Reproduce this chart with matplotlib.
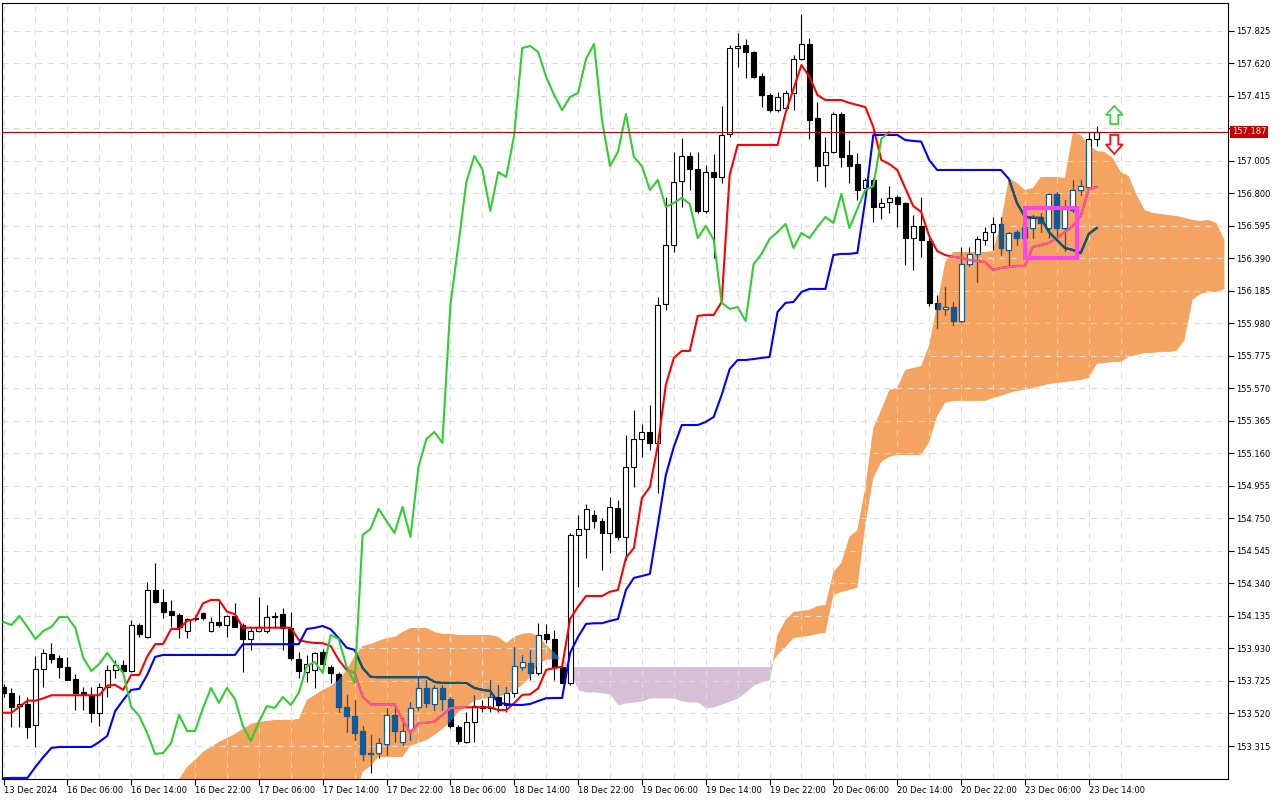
"""USDJPY H1 candles with Ichimoku Kinko Hyo, MT4 style."""

import numpy as np
import matplotlib
matplotlib.use("Agg")
import matplotlib.pyplot as plt
from matplotlib.path import Path
from matplotlib.patches import Polygon, Rectangle
from matplotlib.transforms import blended_transform_factory

# --- candles (bar 0 = 13 Dec 2024 22:00, one bar per hour) ---
opens = [
    153.688, 153.650, 153.567, 153.580, 153.448, 153.801, 153.896, 153.870, 153.814, 153.738,
    153.656, 153.631, 153.524, 153.688, 153.795, 153.826, 153.788, 154.078, 154.003, 154.299,
    154.223, 154.167, 154.141, 154.041, 154.116, 154.154, 154.041, 154.097, 154.078, 154.135,
    154.078, 153.990, 154.041, 154.041, 154.129, 154.148, 154.059, 153.864, 153.782, 153.795,
    153.908, 153.814, 153.770, 153.561, 153.505, 153.410, 153.265, 153.271, 153.328, 153.511,
    153.341, 153.416, 153.561, 153.681, 153.580, 153.681, 153.612, 153.435, 153.341, 153.467,
    153.567, 153.555, 153.624, 153.574, 153.650, 153.814, 153.839, 153.776, 154.022, 153.990,
    153.814, 153.713, 154.646, 154.684, 154.772, 154.734, 154.658, 154.816, 154.633, 155.075,
    155.251, 155.295, 155.226, 156.102, 156.474, 156.878, 157.035, 156.953, 156.689, 156.934,
    156.903, 157.174, 157.716, 157.735, 157.691, 157.540, 157.420, 157.325, 157.338, 157.433,
    157.647, 157.742, 157.275, 156.979, 157.061, 157.300, 157.042, 156.985, 156.834, 156.884,
    156.714, 156.745, 156.777, 156.739, 156.518, 156.594, 156.500, 156.109, 156.071, 156.083,
    155.995, 156.354, 156.418, 156.506, 156.556, 156.607, 156.443, 156.556, 156.518, 156.581,
    156.651, 156.581, 156.796, 156.581, 156.695, 156.821, 156.840, 157.143,
]
highs = [
    153.707, 153.681, 153.637, 153.624, 153.883, 153.927, 153.965, 153.889, 153.877, 153.770,
    153.688, 153.688, 153.713, 153.826, 153.858, 153.858, 154.110, 154.091, 154.349, 154.469,
    154.305, 154.236, 154.154, 154.122, 154.141, 154.160, 154.129, 154.236, 154.141, 154.217,
    154.091, 154.066, 154.255, 154.204, 154.160, 154.185, 154.160, 153.908, 153.889, 153.908,
    153.927, 153.826, 153.782, 153.637, 153.605, 153.441, 153.385, 153.366, 153.555, 153.561,
    153.492, 153.593, 153.751, 153.732, 153.700, 153.700, 153.624, 153.448, 153.530, 153.637,
    153.605, 153.732, 153.700, 153.688, 153.940, 153.889, 153.921, 154.091, 154.085, 154.047,
    153.845, 154.658, 154.772, 154.840, 154.803, 154.753, 154.885, 154.866, 155.276, 155.434,
    155.346, 155.465, 156.146, 156.777, 157.061, 157.149, 157.061, 157.061, 156.979, 157.048,
    157.351, 157.735, 157.811, 157.773, 157.700, 157.559, 157.433, 157.439, 157.452, 157.672,
    157.931, 157.779, 157.376, 157.155, 157.313, 157.313, 157.136, 157.054, 156.897, 156.897,
    156.771, 156.846, 156.790, 156.745, 156.663, 156.777, 156.519, 156.159, 156.209, 156.115,
    156.462, 156.462, 156.531, 156.588, 156.651, 156.651, 156.556, 156.569, 156.632, 156.663,
    156.676, 156.802, 156.809, 156.758, 156.884, 156.884, 157.187, 157.225,
]
lows = [
    153.624, 153.435, 153.435, 153.366, 153.309, 153.688, 153.839, 153.744, 153.732, 153.542,
    153.542, 153.467, 153.441, 153.624, 153.744, 153.763, 153.782, 154.003, 153.996, 154.217,
    154.122, 154.066, 153.996, 153.996, 154.104, 154.110, 154.034, 154.066, 154.003, 154.066,
    153.782, 153.921, 154.034, 154.028, 154.059, 153.921, 153.858, 153.744, 153.719, 153.681,
    153.795, 153.713, 153.530, 153.404, 153.353, 153.227, 153.145, 153.240, 153.259, 153.341,
    153.322, 153.353, 153.542, 153.561, 153.542, 153.542, 153.429, 153.328, 153.334, 153.341,
    153.530, 153.530, 153.530, 153.530, 153.624, 153.795, 153.732, 153.763, 153.965, 153.732,
    153.713, 153.700, 154.318, 154.501, 154.690, 154.425, 154.532, 154.614, 154.488, 154.948,
    155.138, 155.182, 154.911, 156.064, 156.430, 156.714, 156.821, 156.676, 156.676, 156.392,
    156.865, 157.155, 157.597, 157.527, 157.527, 157.344, 157.313, 157.313, 157.325, 157.325,
    157.641, 157.143, 156.878, 156.840, 157.054, 156.966, 156.865, 156.758, 156.790, 156.619,
    156.638, 156.676, 156.588, 156.348, 156.317, 156.399, 156.090, 155.951, 156.033, 155.970,
    155.989, 156.342, 156.241, 156.474, 156.443, 156.411, 156.336, 156.474, 156.443, 156.518,
    156.556, 156.518, 156.506, 156.436, 156.682, 156.790, 156.834, 157.098,
]
closes = [
    153.650, 153.561, 153.580, 153.435, 153.801, 153.902, 153.864, 153.814, 153.732, 153.650,
    153.643, 153.524, 153.688, 153.795, 153.826, 153.788, 154.078, 154.022, 154.299, 154.223,
    154.160, 154.141, 154.066, 154.116, 154.122, 154.122, 154.097, 154.078, 154.135, 154.066,
    153.990, 154.041, 154.066, 154.129, 154.129, 154.059, 153.870, 153.788, 153.833, 153.902,
    153.833, 153.776, 153.561, 153.505, 153.397, 153.265, 153.271, 153.334, 153.511, 153.410,
    153.410, 153.555, 153.681, 153.587, 153.681, 153.612, 153.441, 153.347, 153.467, 153.567,
    153.555, 153.624, 153.574, 153.650, 153.820, 153.845, 153.776, 154.015, 153.990, 153.814,
    153.713, 154.646, 154.684, 154.810, 154.734, 154.658, 154.822, 154.633, 155.075, 155.251,
    155.295, 155.226, 156.096, 156.474, 156.871, 157.035, 156.953, 156.689, 156.934, 156.903,
    157.168, 157.716, 157.729, 157.691, 157.534, 157.420, 157.325, 157.407, 157.433, 157.647,
    157.742, 157.262, 156.972, 157.061, 157.300, 157.029, 156.972, 156.821, 156.884, 156.714,
    156.739, 156.771, 156.733, 156.518, 156.594, 156.506, 156.109, 156.071, 156.083, 155.995,
    156.354, 156.418, 156.512, 156.556, 156.607, 156.455, 156.550, 156.518, 156.588, 156.651,
    156.613, 156.796, 156.581, 156.701, 156.821, 156.846, 157.143, 157.187,
]

# --- Ichimoku lines ---
tenkan = (
    [153.525, 153.525, 153.563, 153.601, 153.601, 153.616] + [153.635] * 7
    + [153.696, 153.700, 153.669, 153.763, 153.763, 153.879, 153.957, 153.959, 154.053, 154.053,
       154.104, 154.116, 154.215, 154.236, 154.236, 154.162, 154.146] + [154.061] * 7
    + [153.984, 153.971, 153.965, 153.963, 153.946, 153.858, 153.795, 153.776, 153.626]
    + [153.578] * 4
    + [153.479, 153.399, 153.459, 153.461, 153.469, 153.511, 153.553] + [153.559] * 5
    + [153.542, 153.542, 153.585, 153.637, 153.641, 153.679, 153.795, 153.807, 153.814,
       154.116, 154.194] + [154.261] * 3
    + [154.288, 154.299, 154.501, 154.564, 154.879, 154.948, 155.213, 155.592, 155.762,
       155.806, 155.806, 156.027, 156.033, 156.033, 156.115, 156.916] + [157.105] * 6
    + [157.307, 157.458, 157.609, 157.534, 157.420] + [157.388] * 3
    + [157.370, 157.357, 157.344, 157.218, 157.010, 156.985, 156.947, 156.834, 156.720,
       156.682, 156.531, 156.436, 156.411, 156.399, 156.392, 156.380, 156.373, 156.367,
       156.317, 156.329, 156.336, 156.342, 156.342, 156.462, 156.474, 156.487, 156.518,
       156.556, 156.594, 156.657, 156.827, 156.840]
)
kijun = (
    [153.112, 153.114, 153.114, 153.114, 153.183, 153.246, 153.303] + [153.309] * 5
    + [153.341, 153.379, 153.536, 153.605, 153.669, 153.675, 153.763, 153.877]
    + [153.889] * 10 + [153.957] * 8
    + [154.053, 154.060, 154.072, 154.051, 153.996, 153.935, 153.921, 153.807, 153.751]
    + [153.749] * 7 + [153.719] + [153.713] * 4
    + [153.681, 153.669, 153.662, 153.587, 153.580, 153.574, 153.574, 153.580, 153.599,
       153.616, 153.618, 153.618, 153.902, 154.003, 154.085, 154.089, 154.089, 154.104,
       154.116, 154.299, 154.375, 154.387, 154.400, 154.709, 155.024, 155.201]
    + [155.339] * 3
    + [155.358, 155.390, 155.529, 155.692, 155.749, 155.749, 155.755, 155.762, 155.768,
       156.052, 156.109, 156.115, 156.178] + [156.197] * 3
    + [156.411, 156.418, 156.418, 156.424, 156.758] + [157.168] * 4
    + [157.136, 157.130, 157.126, 157.010] + [156.947] * 9
    + [156.890, 156.739, 156.651, 156.645, 156.645, 156.556, 156.506, 156.455, 156.443,
       156.424, 156.544, 156.581]
)

# cloud, shifted 26 bars ahead; first value belongs to bar 20
cloud_start = 20
span_a = [
    152.975, 153.038, 153.107, 153.183, 153.227, 153.278, 153.309, 153.341, 153.366, 153.391,
    153.423, 153.454, 153.467, 153.473, 153.479, 153.479, 153.479, 153.486, 153.605, 153.637,
    153.669, 153.694, 153.732, 153.795, 153.883, 153.946, 153.959, 153.978, 153.996, 154.003,
    154.034, 154.059, 154.059, 154.059, 154.034, 154.022, 154.022, 154.015, 154.015, 154.015,
    154.015, 154.015, 154.003, 153.965, 154.003, 154.022, 154.028, 154.009, 153.952, 153.908,
    153.851, 153.782, 153.669, 153.656, 153.656, 153.650, 153.643, 153.574, 153.587, 153.593,
    153.599, 153.618, 153.618, 153.618, 153.618, 153.599, 153.593, 153.593, 153.555, 153.561,
    153.580, 153.599, 153.618, 153.656, 153.700, 153.719, 153.732, 154.015, 154.110, 154.160,
    154.167, 154.173, 154.198, 154.204, 154.413, 154.469, 154.633, 154.677, 154.948, 155.320,
    155.434, 155.560, 155.573, 155.686, 155.699, 155.711, 155.844, 156.096, 156.367, 156.430,
    156.430, 156.430, 156.430, 156.430, 156.436, 156.619, 156.897, 156.865, 156.821, 156.834,
    156.903, 156.903, 156.903, 156.897, 157.180, 157.168, 157.105, 157.067, 157.061, 157.023,
    156.934, 156.909, 156.790, 156.695, 156.676, 156.670, 156.663, 156.657, 156.645, 156.632,
    156.626, 156.632, 156.613, 156.506,
]
span_b = (
    [152.786] + [152.975] * 24
    + [153.152, 153.189] + [153.246] * 4
    + [153.316, 153.334, 153.353, 153.385, 153.423, 153.467, 153.530, 153.561, 153.599,
       153.612, 153.618, 153.624, 153.643, 153.662, 153.700, 153.751, 153.832, 153.858,
       153.864, 153.864] + [153.816] * 26
    + [153.889, 153.940, 153.996, 154.003, 154.009, 154.022, 154.028, 154.267, 154.286,
       154.299, 154.312, 154.709, 155.005, 155.106, 155.138] + [155.150] * 4
    + [155.232, 155.396, 155.478] + [155.491] * 5
    + [155.510, 155.522, 155.541, 155.554, 155.560, 155.573, 155.585, 155.598, 155.604,
       155.610, 155.617, 155.623, 155.636, 155.724, 155.730, 155.737, 155.737, 155.768,
       155.781, 155.793, 155.793, 155.800, 155.800, 155.806, 155.875, 156.128, 156.165,
       156.178, 156.178, 156.197]
)

x_labels = [
    "13 Dec 2024", "16 Dec 06:00", "16 Dec 14:00", "16 Dec 22:00", "17 Dec 06:00",
    "17 Dec 14:00", "17 Dec 22:00", "18 Dec 06:00", "18 Dec 14:00", "18 Dec 22:00",
    "19 Dec 06:00", "19 Dec 14:00", "19 Dec 22:00", "20 Dec 06:00", "20 Dec 14:00",
    "20 Dec 22:00", "23 Dec 06:00", "23 Dec 14:00",
]
y_ticks = [
    153.315, 153.520, 153.725, 153.930, 154.135, 154.340, 154.545, 154.750, 154.955,
    155.160, 155.365, 155.570, 155.775, 155.980, 156.185, 156.390, 156.595, 156.800,
    157.005, 157.210, 157.415, 157.620, 157.825,
]
# 157.210 sits under the current price label, so its text is hidden
y_labels = [
    "153.315", "153.520", "153.725", "153.930", "154.135", "154.340", "154.545", "154.750",
    "154.955", "155.160", "155.365", "155.570", "155.775", "155.980", "156.185", "156.390",
    "156.595", "156.800", "157.005", "", "157.415", "157.620", "157.825",
]
last_price = 157.187

# drawn objects on the chart (bar position, price)
box = (128.0, 134.5, 156.390, 156.710)
up_arrow = (139.2, 157.237, 157.351)
down_arrow = (139.2, 157.168, 157.048)

ORANGE = "#F4A460"
THISTLE = "#D8BFD8"
IN_CLOUD_DARK = "#0B5B9F"


def arrow_patch(cx, base, tip, color):
    head = 0.5 * (tip - base)
    hw, sw = 1.05, 0.5
    pts = [(cx - sw, base), (cx + sw, base), (cx + sw, tip - head), (cx + hw, tip - head),
           (cx, tip), (cx - hw, tip - head), (cx - sw, tip - head)]
    return Polygon(pts, closed=True, fc="white", ec=color, lw=1.3, zorder=7)


def draw_candles(ax, x, o, h, l, c, dark, z, clip=None):
    bull = c >= o
    lo = np.minimum(o, c)
    height = np.maximum(np.abs(c - o), 0.004)
    wicks = ax.vlines(x, l, h, color=dark, lw=0.8, zorder=z)
    faces = np.where(bull, "white", dark)
    bodies = ax.bar(x, height, bottom=lo, width=0.62, color=faces, edgecolor=dark,
                    linewidth=0.8, zorder=z + 0.05)
    if clip is not None:
        wicks.set_clip_path(clip, ax.transData)
        for p in bodies:
            p.set_clip_path(clip, ax.transData)


def main():
    o = np.array(opens)
    h = np.array(highs)
    l = np.array(lows)
    c = np.array(closes)
    x = np.arange(len(c))

    plt.rcParams["font.family"] = "DejaVu Sans"
    fig = plt.figure(figsize=(12.8, 8), dpi=100)
    ax = fig.add_axes([2 / 1280, 21 / 800, 1226 / 1280, 776.5 / 800])

    cx = np.arange(cloud_start, cloud_start + len(span_a))
    a = np.array(span_a)
    b = np.array(span_b)
    orange = ax.fill_between(cx, a, b, where=a >= b, interpolate=True,
                             color=ORANGE, lw=0, zorder=1)
    ax.fill_between(cx, a, b, where=a < b, interpolate=True, color=THISTLE, lw=0, zorder=1)
    clip = Path.make_compound_path(*orange.get_paths())

    # candles, plus the darker blue look they take inside the orange cloud
    draw_candles(ax, x, o, h, l, c, "black", 2.5)
    draw_candles(ax, x, o, h, l, c, IN_CLOUD_DARK, 2.7, clip)

    ax.plot(x, tenkan, color="#FF0000", lw=1.5, zorder=3)
    ax.plot(x, kijun, color="#0000FF", lw=1.5, zorder=3)
    t2, = ax.plot(x, tenkan, color="#F45B9F", lw=1.5, zorder=3.1)
    k2, = ax.plot(x, kijun, color="#0B5B60", lw=1.5, zorder=3.1)
    t2.set_clip_path(clip, ax.transData)
    k2.set_clip_path(clip, ax.transData)
    # chikou span: close plotted 26 bars back
    ax.plot(x[:-26], c[26:], color="#32CD32", lw=1.5, zorder=3.2)

    ax.axhline(last_price, color="#B40000", lw=0.8, zorder=3.5)

    x0, x1, y0, y1 = box
    ax.add_patch(Rectangle((x0, y0), x1 - x0, y1 - y0, fill=False, ec="#FF44EE",
                           lw=2.9, zorder=6))
    ax.add_patch(arrow_patch(*up_arrow, "#44CC44"))
    ax.add_patch(arrow_patch(*down_arrow, "#EE1111"))

    ax.set_xlim(-0.19, 153.45)
    ax.set_ylim(153.107, 158.003)

    ax.set_xticks(np.arange(len(x_labels)) * 8)
    ax.set_xticklabels(x_labels)
    ax.set_xticks(np.arange(len(x_labels)) * 8 + 4, minor=True)
    for lab in ax.get_xticklabels():
        lab.set_horizontalalignment("left")
    ax.tick_params(axis="x", which="major", length=4, pad=1, labelsize=6, direction="out")
    ax.tick_params(axis="x", which="minor", length=0)

    ax.yaxis.tick_right()
    ax.set_yticks(y_ticks)
    ax.set_yticklabels(y_labels)
    ax.tick_params(axis="y", length=4, pad=2, labelsize=6, direction="out")

    ax.set_axisbelow("line")
    grid_kw = dict(color="#DCDCDC", lw=0.75, ls=(0, (5.5, 5.5)))
    ax.grid(True, axis="x", which="both", **grid_kw)
    ax.grid(True, axis="y", which="major", **grid_kw)

    for s in ax.spines.values():
        s.set_color("black")
        s.set_linewidth(0.8)

    tr = blended_transform_factory(ax.transAxes, ax.transData)
    ax.text(1.0 + 4 / 1226, last_price, f"{last_price:.3f}", transform=tr, ha="left",
            va="center", fontsize=6, color="white", clip_on=False, zorder=10,
            bbox=dict(boxstyle="square,pad=0.2", fc="#C80000", ec="none"))

    fig.savefig("out.png", dpi=100)


if __name__ == "__main__":
    main()
